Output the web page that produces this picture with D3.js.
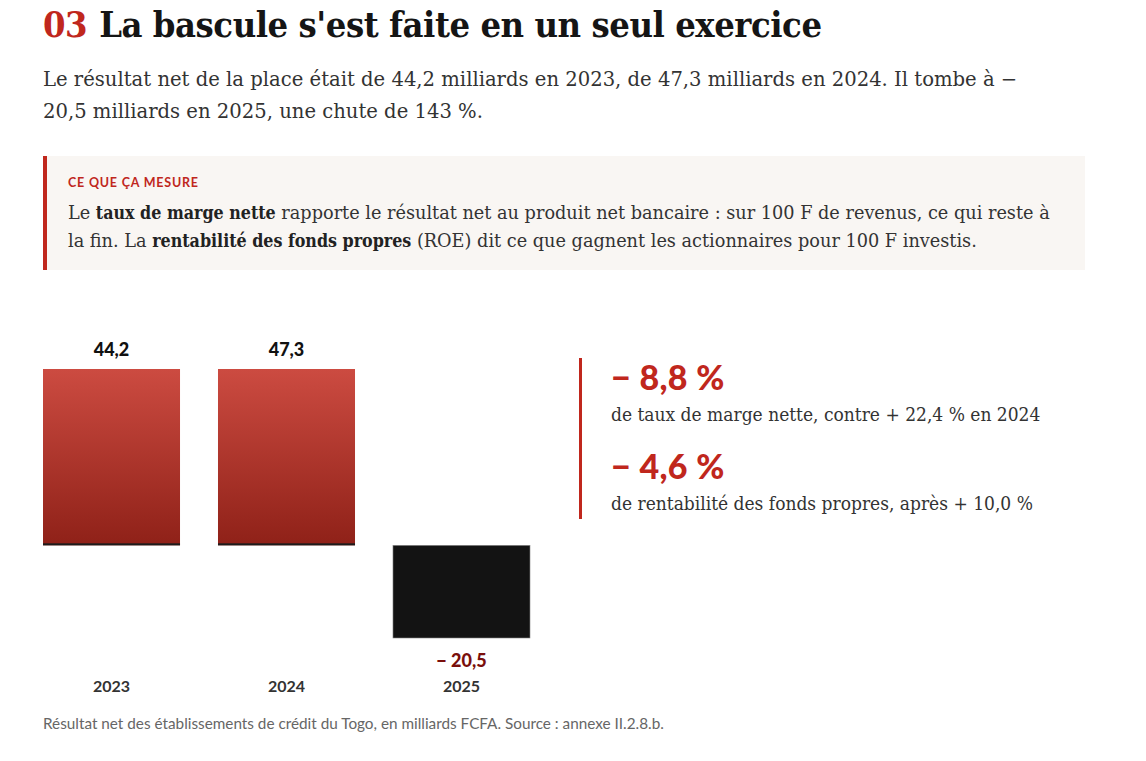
<!DOCTYPE html>
<html lang="fr">
<head>
<meta charset="utf-8">
<script src="https://cdn.jsdelivr.net/npm/d3@7"></script>
<style>
  html, body { margin: 0; padding: 0; background: #fff; }
  svg { display: block; }
  .cond { font-family: 'DejaVu Serif', serif; font-stretch: condensed; }
  .serif { font-family: 'DejaVu Serif', serif; }
</style>
</head>
<body>
<div id="chart"></div>
<script>
// data
const years = ["2023", "2024", "2025"];
const netResult = [44.2, 47.3, -20.5];
const valueLabels = ["44,2", "47,3", "\u2212 20,5"];
const keyFigures = ["\u2212 8,8 %", "\u2212 4,6 %"];
const keyCaptions = [
  "de taux de marge nette, contre + 22,4 % en 2024",
  "de rentabilit\u00e9 des fonds propres, apr\u00e8s + 10,0 %"
];
// bars above this value are drawn at the same (capped) height, as in the original
const positiveCap = 39;

const W = 1146, H = 761;
const sans = "Lato, 'Open Sans', sans-serif";
const red = "#c0271d";

const svg = d3.select("#chart").append("svg")
  .attr("width", W)
  .attr("height", H);

const defs = svg.append("defs");
const grad = defs.append("linearGradient")
  .attr("id", "barGrad")
  .attr("x1", 0).attr("y1", 0).attr("x2", 0).attr("y2", 1);
grad.append("stop").attr("offset", "0%").attr("stop-color", "#cc4b41");
grad.append("stop").attr("offset", "100%").attr("stop-color", "#8f2118");

// header
const title = svg.append("text")
  .attr("class", "cond")
  .attr("x", 43).attr("y", 37)
  .style("font-weight", "bold")
  .style("font-size", "36px")
  .style("letter-spacing", "-0.45px");
title.append("tspan").attr("fill", red).text("03");
title.append("tspan").attr("fill", "#151515").attr("dx", 12)
  .text("La bascule s'est faite en un seul exercice");

const intro = [
  "Le r\u00e9sultat net de la place \u00e9tait de 44,2 milliards en 2023, de 47,3 milliards en 2024. Il tombe \u00e0 \u2212",
  "20,5 milliards en 2025, une chute de 143 %."
];
svg.append("g").selectAll("text")
  .data(intro)
  .join("text")
  .attr("class", "serif")
  .attr("x", 43)
  .attr("y", (d, i) => 86 + i * 32)
  .style("font-size", "19.6px")
  .attr("fill", "#333")
  .text(d => d);

// definition box
const box = svg.append("g");
box.append("rect")
  .attr("x", 43).attr("y", 156)
  .attr("width", 1042).attr("height", 114)
  .attr("fill", "#f9f6f3");
box.append("rect")
  .attr("x", 43).attr("y", 156)
  .attr("width", 4).attr("height", 114)
  .attr("fill", red);
box.append("text")
  .attr("x", 68).attr("y", 187)
  .style("font-family", sans)
  .style("font-weight", "bold")
  .style("font-size", "12.5px")
  .style("letter-spacing", "0.8px")
  .attr("fill", red)
  .text("CE QUE \u00c7A MESURE");

const boxLines = [
  [["Le ", false], ["taux de marge nette", true], [" rapporte le r\u00e9sultat net au produit net bancaire : sur 100 F de revenus, ce qui reste \u00e0", false]],
  [["la fin. La ", false], ["rentabilit\u00e9 des fonds propres", true], [" (ROE) dit ce que gagnent les actionnaires pour 100 F investis.", false]]
];
box.selectAll("text.line")
  .data(boxLines)
  .join("text")
  .attr("class", "line serif")
  .attr("x", 68)
  .attr("y", (d, i) => 219 + i * 28)
  .style("font-size", "17.7px")
  .attr("fill", "#333")
  .selectAll("tspan")
  .data(d => d)
  .join("tspan")
  .attr("class", d => d[1] ? "cond" : null)
  .style("font-weight", d => d[1] ? "bold" : "normal")
  .attr("fill", d => d[1] ? "#222" : "#333")
  .text(d => d[0]);

// bar chart
const data = years.map((y, i) => ({ year: y, value: netResult[i], label: valueLabels[i] }));

const x = d3.scaleBand()
  .domain(years)
  .range([43, 530])
  .paddingInner(0.217)
  .paddingOuter(0);

const y = d3.scaleLinear()
  .domain([d3.min(netResult), positiveCap])
  .range([638, 369])
  .clamp(true);

const chart = svg.append("g");

chart.selectAll("rect.bar")
  .data(data)
  .join("rect")
  .attr("class", "bar")
  .attr("x", d => x(d.year))
  .attr("width", x.bandwidth())
  .attr("y", d => Math.min(y(d.value), y(0)))
  .attr("height", d => Math.abs(y(d.value) - y(0)))
  .attr("fill", d => d.value >= 0 ? "url(#barGrad)" : "#131313")
  .attr("stroke", d => d.value >= 0 ? "none" : "#888")
  .attr("stroke-width", 0.6);

// dark foot under positive bars
chart.selectAll("rect.foot")
  .data(data.filter(d => d.value >= 0))
  .join("rect")
  .attr("class", "foot")
  .attr("x", d => x(d.year))
  .attr("width", x.bandwidth())
  .attr("y", y(0) - 2)
  .attr("height", 2)
  .attr("fill", "#1c1c1c");

chart.selectAll("text.value")
  .data(data)
  .join("text")
  .attr("class", "value")
  .attr("x", d => x(d.year) + x.bandwidth() / 2)
  .attr("y", d => d.value >= 0 ? y(d.value) - 13 : y(d.value) + 29)
  .attr("text-anchor", "middle")
  .style("font-family", sans)
  .style("font-weight", "900")
  .style("font-size", "18px")
  .attr("fill", d => d.value >= 0 ? "#111" : "#7a0f0c")
  .text(d => d.label);

chart.append("g")
  .attr("transform", "translate(0,692)")
  .call(d3.axisBottom(x).tickSize(0).tickPadding(0))
  .call(g => g.select(".domain").remove())
  .selectAll("text")
  .attr("dy", 0)
  .style("font-family", sans)
  .style("font-weight", "bold")
  .style("font-size", "16px")
  .attr("fill", "#333");

// key figures panel
const panel = svg.append("g");
panel.append("rect")
  .attr("x", 579).attr("y", 358)
  .attr("width", 3).attr("height", 161)
  .attr("fill", red);

const figs = panel.selectAll("g.fig")
  .data(keyFigures.map((f, i) => ({ fig: f, cap: keyCaptions[i] })))
  .join("g")
  .attr("class", "fig")
  .attr("transform", (d, i) => `translate(611,${390 + i * 89})`);
figs.append("text")
  .style("font-family", sans)
  .style("font-weight", "900")
  .style("font-size", "34px")
  .style("letter-spacing", "0.3px")
  .attr("fill", red)
  .text(d => d.fig);
figs.append("text")
  .attr("class", "cond")
  .attr("y", 31)
  .style("font-size", "19px")
  .attr("fill", "#333")
  .text(d => d.cap);

// source note
svg.append("text")
  .attr("x", 43).attr("y", 729)
  .style("font-family", sans)
  .style("font-size", "15.3px")
  .attr("fill", "#666")
  .text("R\u00e9sultat net des \u00e9tablissements de cr\u00e9dit du Togo, en milliards FCFA. Source : annexe II.2.8.b.");
</script>
</body>
</html>
